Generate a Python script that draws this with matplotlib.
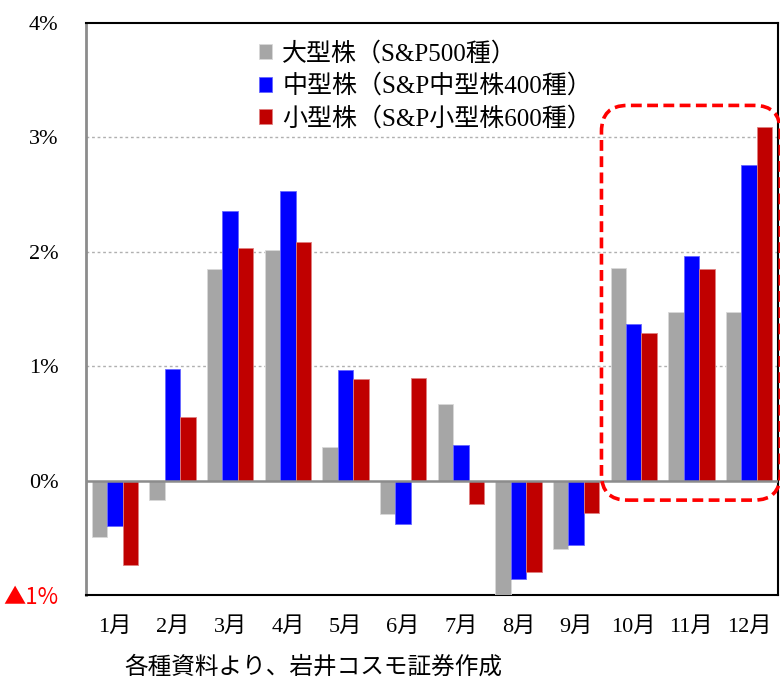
import matplotlib
matplotlib.use("Agg")
import matplotlib.pyplot as plt
import numpy as np
from matplotlib.patches import FancyBboxPatch

plt.rcParams['font.family'] = ['Liberation Serif', 'Noto Sans CJK JP', 'DejaVu Sans']

months = ["1月", "2月", "3月", "4月", "5月", "6月", "7月", "8月", "9月", "10月", "11月", "12月"]
large = [-0.49, -0.17, 1.85, 2.02, 0.29, -0.29, 0.67, -1.00, -0.60, 1.86, 1.47, 1.47]
mid = [-0.40, 0.98, 2.36, 2.53, 0.97, -0.38, 0.31, -0.86, -0.56, 1.37, 1.96, 2.76]
small = [-0.74, 0.56, 2.03, 2.09, 0.89, 0.90, -0.20, -0.80, -0.28, 1.29, 1.85, 3.09]
labels = ["大型株（S&P500種）", "中型株（S&P中型株400種）", "小型株（S&P小型株600種）"]
colors = ["#a6a6a6", "#0000ff", "#c00000"]
edges = ["#d9d9d9", "#6666ff", "#e08080"]
yticks = [-1, 0, 1, 2, 3, 4]
ytick_labels = ["▲1%", "0%", "1%", "2%", "3%", "4%"]

fig = plt.figure(figsize=(7.8, 6.84), dpi=100)
ax = fig.add_axes([0.1103, 0.130, 0.887, 0.8363])

x = np.arange(len(months))
w = 0.268
for i, (vals, lab) in enumerate(zip([large, mid, small], labels)):
    ax.bar(x + (i - 1) * w, vals, width=w, color=colors[i], edgecolor=edges[i],
           linewidth=0.6, label=lab, zorder=3)

ax.set_xlim(-0.5, 11.5)
ax.set_ylim(-1, 4)
ax.axhline(0, color="#8c8c8c", linewidth=1.8, zorder=4)
for g in [1, 2, 3]:
    ax.axhline(g, color="#b0b0b0", linewidth=1, linestyle=(0, (2, 2)), zorder=1)

ax.set_yticks(yticks)
ax.set_yticklabels(ytick_labels, fontsize=16)
ax.get_yticklabels()[0].set_color("red")
ax.get_yticklabels()[0].set_family(['Noto Sans CJK JP', 'DejaVu Sans'])
ax.set_xticks(x)
ax.set_xticklabels(months, fontsize=16)
ax.tick_params(length=0, pad=20, axis="y")
ax.tick_params(length=0, pad=16, axis="x")

ax.spines["left"].set_color("#8c8c8c")
ax.spines["left"].set_linewidth(2)
for s in ["top", "bottom", "right"]:
    ax.spines[s].set_color("black")
    ax.spines[s].set_linewidth(1.5)

leg = ax.legend(loc="upper left", bbox_to_anchor=(0.235, 0.985), frameon=False,
                fontsize=18, handlelength=0.55, handleheight=0.55,
                handletextpad=0.4, labelspacing=0.35, borderaxespad=0)

# red dashed highlight box around Oct-Dec
box = FancyBboxPatch((8.44, -0.17), 3.1, 3.45,
                     boxstyle="round,pad=0,rounding_size=0.45",
                     mutation_aspect=0.505, fill=False, edgecolor="#ff0000",
                     linewidth=2.6, linestyle=(0, (3, 1.5)), clip_on=False, zorder=5)
ax.add_patch(box)

fig.text(0.16, 0.008, "各種資料より、岩井コスモ証券作成", fontsize=17, ha="left", va="bottom")

fig.savefig("out.png", dpi=100)
